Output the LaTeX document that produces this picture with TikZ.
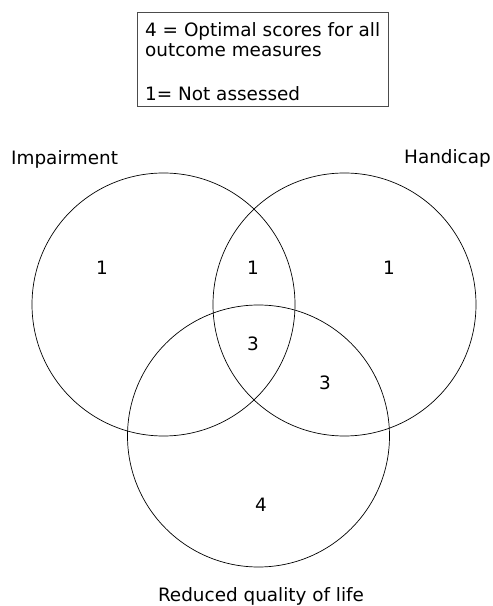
\documentclass[tikz,border=0pt]{standalone}
\usepackage{fontspec}
\setmainfont{DejaVu Sans}
\begin{document}
\begin{tikzpicture}[x=1pt,y=1pt,
  venn/.style={draw=black, line width=0.7pt},
  lbl/.style={font=\fontsize{18.4}{21.5}\selectfont, inner sep=0pt},
  legendbox/.style={draw=black!70, line width=0.8pt, minimum width=251pt, minimum height=94pt, inner sep=0pt}]
\useasboundingbox (0,0) rectangle (493,606);
% legend
\node[legendbox, anchor=north west] (legend) at (137,594) {};
\node[lbl, anchor=base west] (leg1) at (145,569) {4 = Optimal scores for all};
\node[lbl, anchor=base west] (leg2) at (145,549) {outcome measures};
\node[lbl, anchor=base west] (leg3) at (145,505) {1= Not assessed};
% circles
\draw[venn] (163.5,301.5) circle[radius=131.5];
\draw[venn] (344.5,301.5) circle[radius=131.5];
\draw[venn] (258.5,170) circle[radius=131];
% set labels
\node[lbl, anchor=base west] (imp) at (11,441) {Impairment};
\node[lbl, anchor=base east] (hand) at (491,442) {Handicap};
\node[lbl, anchor=base] (qol) at (261,5) {Reduced quality of life};
% region values
\node[lbl] (r1) at (102,338) {1};
\node[lbl] (r2) at (253,338) {1};
\node[lbl] (r3) at (389,338) {1};
\node[lbl] (r4) at (253,262) {3};
\node[lbl] (r5) at (325,223) {3};
\node[lbl] (r6) at (261,101) {4};
\end{tikzpicture}
\end{document}
